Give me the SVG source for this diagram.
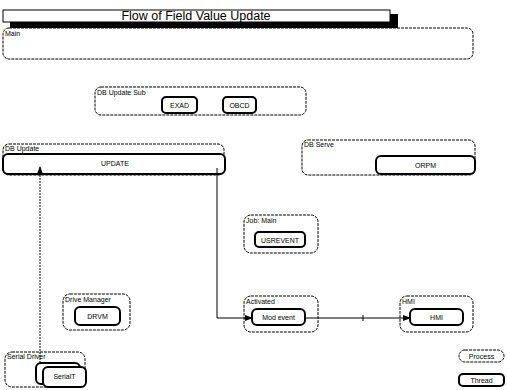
<svg xmlns="http://www.w3.org/2000/svg" width="507" height="390" viewBox="0 0 507 390">
<defs>
<style>
text{font-family:"Liberation Sans",Arial,sans-serif;fill:#000}
.proc{fill:#fff;stroke:#000;stroke-width:1;stroke-dasharray:3,1}
.thr{fill:#fff;stroke:#000;stroke-width:2}
.lbl{font-size:7px}
.tl{font-size:7px;text-anchor:middle}
.con{fill:none;stroke:#000;stroke-width:1}
.dot{fill:none;stroke:#000;stroke-width:1;stroke-dasharray:2,1}
</style>
<marker id="ah" markerWidth="8" markerHeight="6" refX="7" refY="3" orient="auto" markerUnits="userSpaceOnUse">
<path d="M0,0 L8,3 L0,6 Z" fill="#000"/>
</marker>
</defs>
<rect width="507" height="390" fill="#fff"/>
<g id="title">
<rect x="10" y="14" width="388" height="15" fill="#000"/>
<rect x="3" y="10" width="387" height="12" fill="#fff" stroke="#000" stroke-width="1"/>
<text x="196" y="20" font-size="12.5" text-anchor="middle">Flow of Field Value Update</text>
</g>
<g id="main">
<rect class="proc" x="3" y="28" width="470" height="31" rx="6"/>
<text class="lbl" x="5" y="36">Main</text>
</g>
<g id="db-update-sub">
<rect class="proc" x="95" y="87" width="211" height="28" rx="6"/>
<text class="lbl" x="97" y="95">DB Update Sub</text>
<rect class="thr" x="162" y="97" width="35" height="16" rx="4"/>
<text class="tl" x="179.5" y="108">EXAD</text>
<rect class="thr" x="223" y="97" width="33" height="16" rx="4"/>
<text class="tl" x="239.5" y="108">OBCD</text>
</g>
<g id="db-update">
<rect class="proc" x="3" y="144" width="221" height="31" rx="6"/>
<text class="lbl" x="5" y="151">DB Update</text>
<rect class="thr" x="3" y="154" width="222" height="20" rx="5"/>
<text class="tl" x="115" y="166">UPDATE</text>
</g>
<g id="db-serve">
<rect class="proc" x="302" y="140" width="173" height="35" rx="6"/>
<text class="lbl" x="304" y="147">DB Serve</text>
<rect class="thr" x="376" y="156" width="99" height="18" rx="5"/>
<text class="tl" x="425.5" y="168">ORPM</text>
</g>
<g id="job-main">
<rect class="proc" x="244" y="215" width="74" height="38" rx="7"/>
<text class="lbl" x="246" y="223">Job: Main</text>
<rect class="thr" x="255" y="232" width="50" height="15" rx="4"/>
<text class="tl" x="280" y="243">USREVENT</text>
</g>
<g id="drive-manager">
<rect class="proc" x="63" y="294" width="67" height="36" rx="7"/>
<text class="lbl" x="65" y="302">Drive Manager</text>
<rect class="thr" x="75" y="307" width="45" height="18" rx="5"/>
<text class="tl" x="97.5" y="319">DRVM</text>
</g>
<g id="activated">
<rect class="proc" x="244" y="296" width="74" height="36" rx="7"/>
<text class="lbl" x="246" y="304">Activated</text>
<rect class="thr" x="252" y="309" width="53" height="16" rx="5"/>
<text class="tl" x="278.5" y="320">Mod event</text>
</g>
<g id="hmi">
<rect class="proc" x="400" y="296" width="73" height="36" rx="7"/>
<text class="lbl" x="402" y="304">HMI</text>
<rect class="thr" x="410" y="309" width="53" height="16" rx="5"/>
<text class="tl" x="436.5" y="320">HMI</text>
</g>
<g id="serial-driver">
<rect class="proc" x="5" y="352" width="80" height="35" rx="7"/>
<text class="lbl" x="7" y="359">Serial Driver</text>
<rect class="thr" x="36" y="363" width="44" height="21" rx="5"/>
<rect class="thr" x="43" y="367" width="43" height="20" rx="5"/>
<text class="tl" x="64.5" y="379">SerialT</text>
</g>
<g id="legend">
<rect class="proc" x="459" y="350" width="45" height="12" rx="6"/>
<text class="tl" x="481.5" y="359">Process</text>
<rect class="thr" x="459" y="374" width="45" height="12" rx="4"/>
<text class="tl" x="481.5" y="383">Thread</text>
</g>
<g id="connectors">
<path class="dot" d="M40,363 L40,167" marker-end="url(#ah)"/>
<path class="con" d="M217,168 L217,318 L252,318" marker-end="url(#ah)"/>
<path class="con" d="M305,318 L410,318" marker-end="url(#ah)"/>
<path class="con" d="M363,315 L363,321"/>
</g>
</svg>
